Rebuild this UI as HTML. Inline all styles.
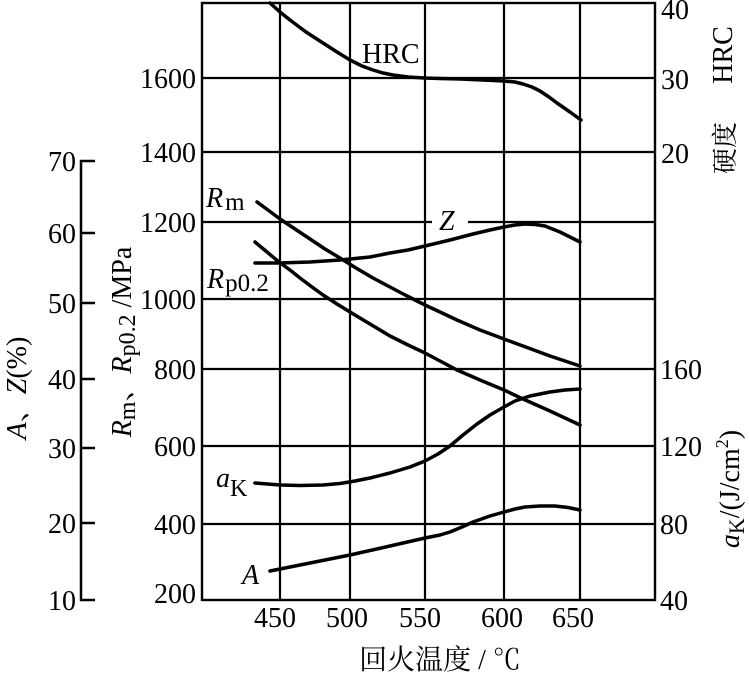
<!DOCTYPE html>
<html>
<head>
<meta charset="utf-8">
<style>
  html, body { margin:0; padding:0; background:#fff; }
  svg { display:block; }
  text { font-family: "Liberation Serif", "Noto Serif CJK SC", serif; fill:#000; }
</style>
</head>
<body>
<svg width="749" height="673" viewBox="0 0 749 673" xmlns="http://www.w3.org/2000/svg">
  <rect x="0" y="0" width="749" height="673" fill="#fff"/>

  <!-- Grid -->
  <g stroke="#000" stroke-width="2.2" fill="none">
    <line x1="280" y1="3" x2="280" y2="600"/>
    <line x1="350" y1="3" x2="350" y2="600"/>
    <line x1="425" y1="3" x2="425" y2="600"/>
    <line x1="504" y1="3" x2="504" y2="600"/>
    <line x1="580" y1="3" x2="580" y2="600"/>
    <line x1="202" y1="78" x2="655" y2="78"/>
    <line x1="202" y1="152" x2="655" y2="152"/>
    <line x1="202" y1="222" x2="655" y2="222"/>
    <line x1="202" y1="299" x2="655" y2="299"/>
    <line x1="202" y1="369" x2="655" y2="369"/>
    <line x1="202" y1="446" x2="655" y2="446"/>
    <line x1="202" y1="524" x2="655" y2="524"/>
    <rect x="202" y="3" width="453" height="597" stroke-width="2.4"/>
  </g>

  <!-- white gap behind Z label -->
  <rect x="432" y="214" width="36" height="16" fill="#fff"/>

  <!-- A,Z axis -->
  <g stroke="#000" stroke-width="2.5">
    <line x1="81" y1="160" x2="81" y2="601"/>
    <line x1="80" y1="161" x2="95" y2="161"/>
    <line x1="80" y1="233" x2="95" y2="233"/>
    <line x1="80" y1="303" x2="95" y2="303"/>
    <line x1="80" y1="379" x2="95" y2="379"/>
    <line x1="80" y1="448" x2="95" y2="448"/>
    <line x1="80" y1="523" x2="95" y2="523"/>
    <line x1="80" y1="600" x2="95" y2="600"/>
  </g>

  <!-- Curves -->
  <g stroke="#000" stroke-width="3.5" fill="none" stroke-linejoin="round" stroke-linecap="round">
    <!-- HRC -->
    <polyline points="270,3 280,12 290,20 306,32 323,43 337,52 350,60 362,66 373,70 383,73 393,75 408,77 424,78 440,78.5 460,79 483,80 503,81 515,82 523,84 532,87 540,91 549,97 557,103 570,112 581,120"/>
    <!-- Rm -->
    <polyline points="257,202 268,210 280,219 295,229 310,239 325,249 340,258 356,268 373,278 390,287 407,296 425,305 440,312 457,320 480,330 504,339 523,346 550,356 580,366"/>
    <!-- Rp0.2 -->
    <polyline points="255,242 267,252 279,262 290,270 300,278 312,287 323,295 337,304 350,312 370,324 390,336 408,345 425,353 440,361 457,370 480,380 504,390 523,399 550,411 580,425"/>
    <!-- Z -->
    <polyline points="255,263 279,263 310,262 340,260 370,257 390,253 408,250 425,246 450,240 473,234 490,230 504,227 515,225 525,224 535,224.5 545,226 560,232 580,242"/>
    <!-- aK -->
    <polyline points="255,483 280,485 300,485.5 323,485 340,483.5 355,481 370,478 390,473 410,467 425,461 438,454 450,446 463,435 477,424 490,415 504,407 515,401 530,396 550,392 565,390 580,389"/>
    <!-- A -->
    <polyline points="270,571 300,565 325,560 350,555 390,546 425,538 440,535 450,532 462,527 473,522 490,516 504,512 515,509 525,507 540,506 555,506 568,507.5 580,510"/>
  </g>

  <!-- Left main tick labels -->
  <g font-size="28" text-anchor="end">
    <text x="196" y="88">1600</text>
    <text x="196" y="162">1400</text>
    <text x="196" y="232">1200</text>
    <text x="196" y="309">1000</text>
    <text x="196" y="379">800</text>
    <text x="196" y="456">600</text>
    <text x="196" y="534">400</text>
    <text x="196" y="603">200</text>
  </g>

  <!-- A,Z tick labels -->
  <g font-size="28" text-anchor="end">
    <text x="76" y="171">70</text>
    <text x="76" y="243">60</text>
    <text x="76" y="313">50</text>
    <text x="76" y="389">40</text>
    <text x="76" y="458">30</text>
    <text x="76" y="533">20</text>
    <text x="76" y="610">10</text>
  </g>

  <!-- Right tick labels -->
  <g font-size="28" text-anchor="start">
    <text x="661" y="19">40</text>
    <text x="661" y="89">30</text>
    <text x="661" y="163">20</text>
    <text x="660" y="379">160</text>
    <text x="660" y="456">120</text>
    <text x="660" y="534">80</text>
    <text x="660" y="610">40</text>
  </g>

  <!-- Bottom tick labels -->
  <g font-size="28" text-anchor="middle">
    <text x="275" y="627">450</text>
    <text x="347" y="627">500</text>
    <text x="420" y="627">550</text>
    <text x="502" y="627">600</text>
    <text x="573" y="627">650</text>
  </g>

  <!-- X axis title -->
  <text x="440" y="669" font-size="28" text-anchor="middle">回火温度 / ℃</text>

  <!-- Curve labels -->
  <text x="362" y="63" font-size="28">HRC</text>
  <text x="439" y="230" font-size="28" font-style="italic">Z</text>
  <text x="206" y="207" font-size="28"><tspan font-style="italic">R</tspan><tspan font-size="25" dx="2" dy="3">m</tspan></text>
  <text x="207" y="288" font-size="28"><tspan font-style="italic">R</tspan><tspan font-size="25" dx="1" dy="3">p0.2</tspan></text>
  <text x="216" y="487" font-size="28"><tspan font-style="italic">a</tspan><tspan font-size="24" dy="9">K</tspan></text>
  <text x="242" y="584" font-size="28" font-style="italic">A</text>

  <!-- Left axis titles (rotated) -->
  <text transform="translate(26,388) rotate(-90)" font-size="28" text-anchor="middle"><tspan font-style="italic">A</tspan>、<tspan font-style="italic">Z</tspan>(%)</text>
  <text transform="translate(131,342) rotate(-90)" font-size="28" text-anchor="middle"><tspan font-style="italic">R</tspan><tspan font-size="24" dy="4">m</tspan><tspan dy="-4">、</tspan><tspan font-style="italic">R</tspan><tspan font-size="24" dy="4">p0.2</tspan><tspan dy="-4"> /MPa</tspan></text>

  <!-- Right axis titles (rotated) -->
  <text transform="translate(732,55) rotate(-90)" font-size="28" text-anchor="middle">HRC</text>
  <text transform="translate(734,148) rotate(-90)" font-size="26" text-anchor="middle">硬度</text>
  <text transform="translate(739,489) rotate(-90)" font-size="28" text-anchor="middle"><tspan font-style="italic">a</tspan><tspan font-size="22" dy="5">K</tspan><tspan dy="-5">/(J/cm</tspan><tspan font-size="18" dy="-11">2</tspan><tspan dy="11">)</tspan></text>
</svg>
</body>
</html>
